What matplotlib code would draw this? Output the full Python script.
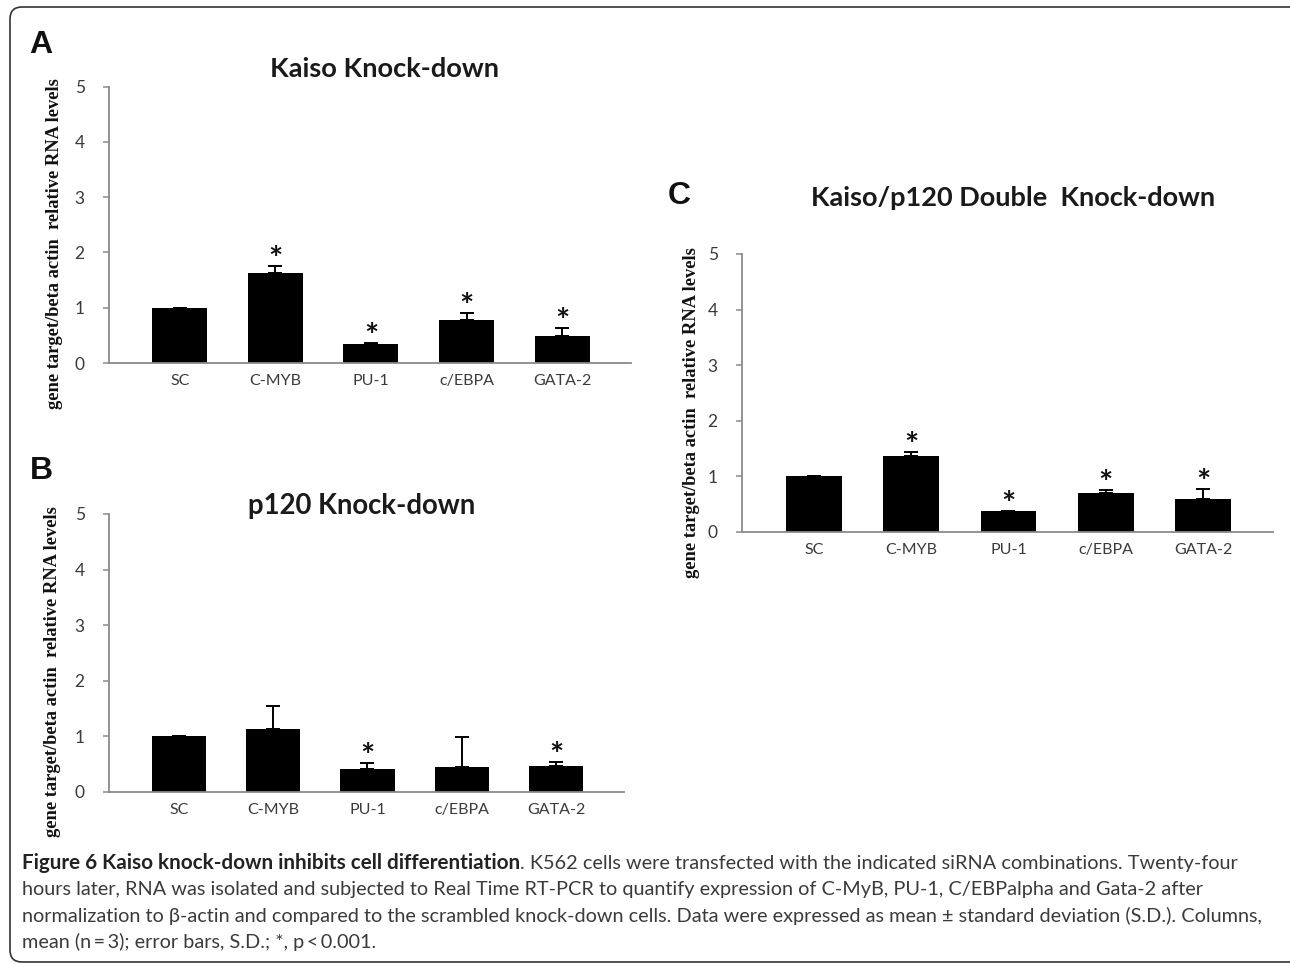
import numpy as np
import matplotlib
matplotlib.use("Agg")
import matplotlib.pyplot as plt
from matplotlib.patches import FancyBboxPatch
from matplotlib.transforms import IdentityTransform

# ---------------- data ----------------
categories = ["SC", "C-MYB", "PU-1", "c/EBPA", "GATA-2"]

kaiso_mean = [1.00, 1.63, 0.34, 0.78, 0.49]
kaiso_err = [0.00, 0.13, 0.02, 0.12, 0.15]
kaiso_sig = [False, True, True, True, True]

p120_mean = [1.00, 1.14, 0.42, 0.45, 0.47]
p120_err = [0.00, 0.41, 0.10, 0.54, 0.07]
p120_sig = [False, False, True, False, True]

double_mean = [1.00, 1.37, 0.38, 0.70, 0.59]
double_err = [0.00, 0.07, 0.00, 0.05, 0.18]
double_sig = [False, True, True, True, True]

y_ticks = [0, 1, 2, 3, 4, 5]
y_label = "gene target/beta actin  relative RNA levels"
titles = ["Kaiso Knock-down", "p120 Knock-down", "Kaiso/p120 Double  Knock-down"]
letters = ["A", "B", "C"]

caption_bold = "Figure 6 Kaiso knock-down inhibits cell differentiation"
caption_lines = [
    ". K562 cells were transfected with the indicated siRNA combinations. Twenty-four",
    "hours later, RNA was isolated and subjected to Real Time RT-PCR to quantify expression of C-MyB, PU-1, C/EBPalpha and Gata-2 after",
    "normalization to \u03b2-actin and compared to the scrambled knock-down cells. Data were expressed as mean \u00b1 standard deviation (S.D.). Columns,",
    "mean (n\u2009=\u20093); error bars, S.D.; *, p\u2009<\u20090.001.",
]

# ---------------- figure ----------------
W, H = 1290, 964
fig = plt.figure(figsize=(W / 100, H / 100), dpi=100)
fig.patch.set_facecolor("white")
renderer = fig.canvas.get_renderer()

SANS = ["Lato", "DejaVu Sans"]
SERIF = ["Liberation Serif", "DejaVu Serif"]
AXCOL = "#8a8a8a"
TXTCOL = "#3a3a3a"


def fy(py):
    return 1 - py / H


def fit(t, target, vertical=False):
    bb = t.get_window_extent(renderer)
    size = bb.height if vertical else bb.width
    t.set_fontsize(t.get_fontsize() * target / size)
    return t


def panel(box, means, errs, sig, title, title_xy, title_w, letter, letter_xy, ylab_xy):
    left, right, top, bottom = box
    ax = fig.add_axes([left / W, fy(bottom), (right - left) / W, (bottom - top) / H])
    x = np.arange(len(categories))
    ax.bar(x, means, width=0.575, color="black", zorder=2)
    ax.errorbar(x, means, yerr=[np.zeros(len(errs)), errs], fmt="none",
                ecolor="black", elinewidth=1.4, capsize=5.3, capthick=1.4, zorder=3)
    for xi, m, e, s in zip(x, means, errs, sig):
        if s:
            ax.annotate("*", (xi, m + e), xytext=(0, -3), textcoords="offset points",
                        ha="center", va="baseline", fontsize=24, fontweight="bold",
                        family=SANS, color="#111111")
    ax.set_xlim(-0.74, 4.72)
    ax.set_ylim(0, 5)
    ax.set_yticks(y_ticks)
    ax.set_xticks(x)
    ax.set_xticklabels(categories)
    for s in ["top", "right"]:
        ax.spines[s].set_visible(False)
    for s in ["left", "bottom"]:
        ax.spines[s].set_color(AXCOL)
        ax.spines[s].set_linewidth(1.3)
    ax.tick_params(axis="y", direction="out", length=4.5, width=1.1, color=AXCOL,
                   pad=13, labelsize=12.5, labelcolor=TXTCOL)
    ax.tick_params(axis="x", length=0, pad=8, labelsize=11.5, labelcolor=TXTCOL)
    for lab in ax.get_xticklabels() + ax.get_yticklabels():
        lab.set_family(SANS)
    ax.patch.set_alpha(0)

    t = fig.text(title_xy[0] / W, fy(title_xy[1]), title, ha="center", va="baseline",
                 fontsize=18, fontweight="bold", family=SANS, color="#1a1a1a")
    fit(t, title_w)
    fig.text(letter_xy[0] / W, fy(letter_xy[1]), letter, ha="left", va="baseline",
             fontsize=23, fontweight="bold", family=["Liberation Sans", "DejaVu Sans"],
             color="#111111")
    yl = fig.text(ylab_xy[0] / W, fy(ylab_xy[1]), y_label, ha="center", va="center",
                  rotation=90, fontsize=10, fontweight="bold", family=SERIF, color="#111111")
    fit(yl, 333, vertical=True)
    return ax


panel((109, 631, 86.5, 363), kaiso_mean, kaiso_err, kaiso_sig,
      titles[0], (384, 77), 230, letters[0], (29, 53), (55, 244))
panel((109, 624, 514, 792), p120_mean, p120_err, p120_sig,
      titles[1], (362, 514), 228, letters[1], (30, 479), (53, 672))
panel((742, 1273, 254, 532), double_mean, double_err, double_sig,
      titles[2], (1013, 206), 405, letters[2], (668, 204), (691, 413))

# ---------------- caption ----------------
cap_x = 22
cap_y = [869, 895, 922, 948]
probe = fig.text(cap_x / W, fy(cap_y[2]), caption_lines[2], ha="left", va="baseline",
                 fontsize=12, family=SANS, color="#3a3a3a")
fit(probe, 1235)
cap_fs = probe.get_fontsize()
probe.remove()

tb = fig.text(cap_x / W, fy(cap_y[0]), caption_bold, ha="left", va="baseline",
              fontsize=cap_fs * 1.04, fontweight="bold", family=SANS, color="#222222")
bb = tb.get_window_extent(renderer)
fig.text(bb.x1 / W, fy(cap_y[0]), caption_lines[0], ha="left", va="baseline",
         fontsize=cap_fs, family=SANS, color="#3a3a3a")
for line, yy in zip(caption_lines[1:], cap_y[1:]):
    fig.text(cap_x / W, fy(yy), line, ha="left", va="baseline",
             fontsize=cap_fs, family=SANS, color="#3a3a3a")

# ---------------- frame ----------------
frame = FancyBboxPatch((10, 2), 1300, 955, boxstyle="round,pad=0,rounding_size=12",
                       transform=IdentityTransform(), fill=False,
                       edgecolor="#333333", linewidth=1.2, clip_on=False)
fig.patches.append(frame)

fig.savefig("out.png", dpi=100, facecolor="white")
